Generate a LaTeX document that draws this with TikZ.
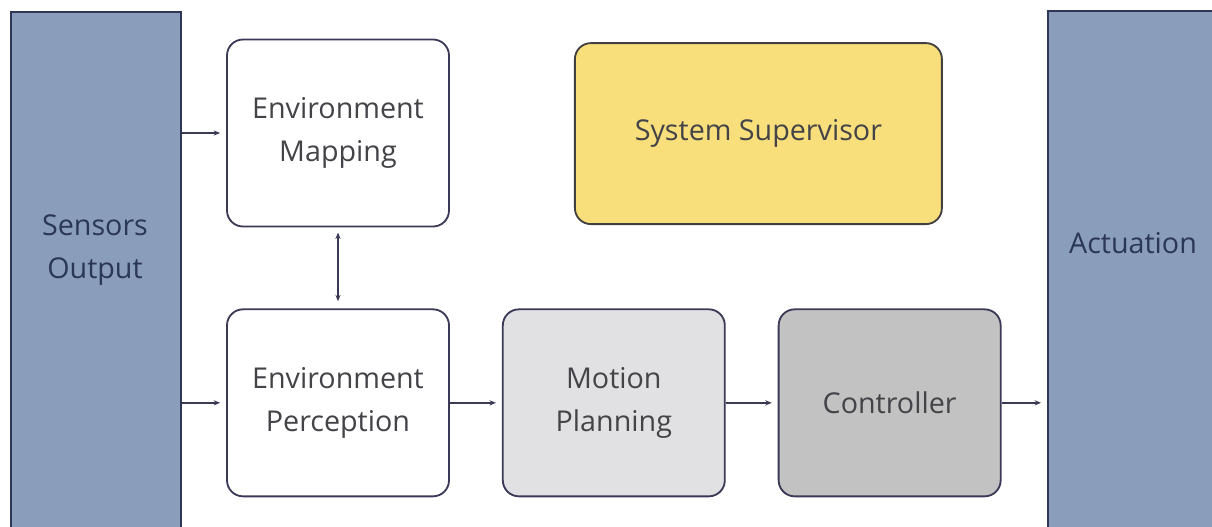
\documentclass[tikz,border=0pt]{standalone}
\usepackage{fontspec}
\setmainfont{Open Sans}
\usepackage{xcolor}
\usetikzlibrary{arrows.meta,positioning}

\definecolor{barblue}{HTML}{8A9DBB}
\definecolor{barline}{HTML}{2E3856}
\definecolor{bartext}{HTML}{2A3756}
\definecolor{boxline}{HTML}{3A3A56}
\definecolor{boxtext}{HTML}{434348}
\definecolor{supyellow}{HTML}{F9DF7B}
\definecolor{planfill}{HTML}{E1E1E3}
\definecolor{ctrlfill}{HTML}{C2C2C2}

\begin{document}
\begin{tikzpicture}[
  bar/.style={draw=barline, line width=1.3pt, fill=barblue, minimum width=4.25cm, minimum height=13.4cm, anchor=north west},
  bartxt/.style={align=center, font=\fontsize{20.4}{31}\selectfont, text=bartext},
  block/.style={draw=boxline, line width=1.3pt, rounded corners=0.4cm, minimum width=5.55cm, minimum height=4.675cm, align=center, font=\fontsize{20.4}{31}\selectfont, text=boxtext, fill=white},
  arrow/.style={-{Stealth[length=1.6mm, width=1.3mm]}, line width=1.1pt, color=boxline, shorten >=0.15cm},
  darrow/.style={{Stealth[length=1.6mm, width=1.3mm]}-{Stealth[length=1.6mm, width=1.3mm]}, line width=1.1pt, color=boxline, shorten >=0.18cm, shorten <=0.13cm},
]
\useasboundingbox (0,0) rectangle (30.3,-13.15);
\clip (0,0) rectangle (30.3,-13.15);

% side bars
\node[bar] (sensors) at (0.25,-0.275) {};
\node[bartxt] (sensorstxt) at (2.375,-6.25) {Sensors\\Output};
\node[bar, minimum width=4.5cm] (actuation) at (26.175,-0.25) {};
\node[bartxt] (actuationtxt) at (28.325,-6.075) {Actuation};

% processing blocks
\node[block] (envmap) at (8.45,-3.325) {\raisebox{0.12cm}{\parbox{4.8cm}{\centering Environment\\Mapping}}};
\node[block, below=2.025cm of envmap] (envperc) {Environment\\Perception};
\node[block, right=1.3cm of envperc, fill=planfill] (motion) {\raisebox{0.1cm}{\parbox{4.8cm}{\centering Motion\\Planning}}};
\node[block, right=1.3cm of motion, fill=ctrlfill] (ctrl) {Controller};
\node[block, minimum width=9.175cm, minimum height=4.525cm, fill=supyellow, draw=black!75] (supervisor) at (18.96,-3.34) {System Supervisor};

\draw[arrow] (sensors.east |- envmap.west) -- (envmap.west);
\draw[arrow] (sensors.east |- envperc.west) -- (envperc.west);
\draw[darrow] (envmap) -- (envperc);
\draw[arrow] (envperc) -- (motion);
\draw[arrow] (motion) -- (ctrl);
\draw[arrow] (ctrl.east) -- (ctrl.east -| actuation.west);

\end{tikzpicture}
\end{document}
